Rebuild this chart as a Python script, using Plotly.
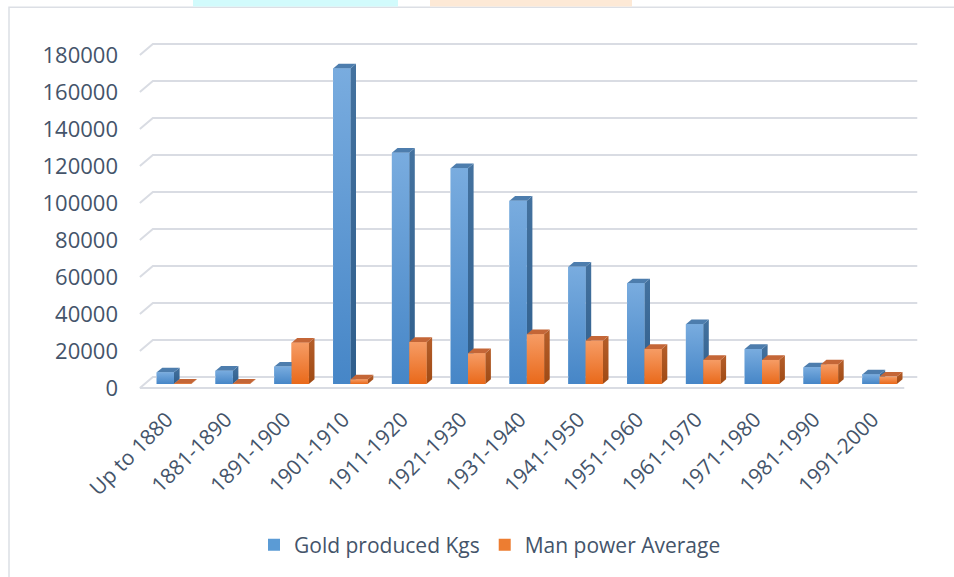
import plotly.graph_objects as go

# ---- data -------------------------------------------------------------
periods = ["Up to 1880", "1881-1890", "1891-1900", "1901-1910", "1911-1920",
           "1921-1930", "1931-1940", "1941-1950", "1951-1960", "1961-1970",
           "1971-1980", "1981-1990", "1991-2000"]
gold_kgs = [6300, 7200, 9400, 170600, 125000, 116600, 99100,
            63400, 54400, 32300, 18900, 9000, 5200]
man_power = [150, 120, 22300, 2500, 22700, 16600, 26900,
             23400, 18900, 13000, 13000, 10600, 4000]
y_ticks = list(range(0, 180001, 20000))

# ---- canvas geometry ---------------------------------------------------
W, H = 954, 577
ML, MR, MT, MB = 130, 24, 30, 175
PW, PH = W - ML - MR, H - MT - MB
PX_CAT = 58.8          # pixels per category
PX_VAL = 0.00185       # pixels per unit of value
X0_PX = 174            # pixel of the first category centre
Y0_PX = 384            # pixel of value 0 on the bar plane

x_range = [(ML - X0_PX) / PX_CAT, (ML + PW - X0_PX) / PX_CAT]
y_range = [(Y0_PX - (MT + PH)) / PX_VAL, (Y0_PX - MT) / PX_VAL]

# depth of the floor (pixels to the right, pixels up) in data units
DX, DY = 13 / PX_CAT, 11 / PX_VAL
front_dx, front_dy = -4 / 11 * DX, -4 / 11 * DY
back_dx, back_dy = 7 / 11 * DX, 7 / 11 * DY
bar_dx, bar_dy = 5.6 / PX_CAT, 4.7 / PX_VAL
BW = 17.3 / PX_CAT
n = len(periods)
left_edge, right_edge = -0.5, n - 0.5

FONT = "Open Sans"
TXT = "#44546A"
GRID = "#D9DCE3"

BLUE = dict(top="#79ACDF", bottom="#4686C7", side_top="#44729F", side_bottom="#2F5E8C",
            cap="#4D7DAD", legend="#5B9BD5")
ORANGE = dict(top="#F69C65", bottom="#E9691A", side_top="#B55E2A", side_bottom="#9F4A14",
              cap="#C46637", legend="#ED7D31")


def px_to_paper_x(p):
    return (p - ML) / PW


def px_to_paper_y(p):
    return (MT + PH - p) / PH


fig = go.Figure()

# legend entries (solid bars underneath the shaded faces)
for name, vals, pal, off in [("Gold produced Kgs", gold_kgs, BLUE, -BW),
                             ("Man power Average", man_power, ORANGE, 0.0)]:
    fig.add_trace(go.Bar(x=list(range(n)), y=vals, width=BW, offset=off, name=name,
                         marker=dict(color=pal["legend"], line=dict(width=0)),
                         hoverinfo="skip"))

# back wall / side wall gridlines and floor edge
gx, gy = [], []
for v in y_ticks:
    gx += [left_edge + front_dx, left_edge + back_dx, right_edge + back_dx, None]
    gy += [v + front_dy, v + back_dy, v + back_dy, None]
gx += [left_edge + front_dx, right_edge + front_dx]
gy += [front_dy, front_dy]
fig.add_trace(go.Scatter(x=gx, y=gy, mode="lines", line=dict(color=GRID, width=2),
                         showlegend=False, hoverinfo="skip"))


def poly(xs, ys, fill=None, grad=None):
    kw = dict(x=xs + [xs[0]], y=ys + [ys[0]], mode="none", fill="toself",
              showlegend=False, hoverinfo="skip")
    if grad:
        kw["fillgradient"] = dict(type="vertical",
                                  colorscale=[[0, grad[0]], [1, grad[1]]])
    else:
        kw["fillcolor"] = fill
    return go.Scatter(**kw)


# shaded 3-D columns
for i in range(n):
    for vals, pal, off in [(gold_kgs, BLUE, -BW), (man_power, ORANGE, 0.0)]:
        v = vals[i]
        x0 = i + off
        x1 = x0 + BW
        fig.add_trace(poly([x1, x1, x1 + bar_dx, x1 + bar_dx], [0, v, v + bar_dy, bar_dy],
                           grad=(pal["side_bottom"], pal["side_top"])))
        fig.add_trace(poly([x0, x1, x1 + bar_dx, x0 + bar_dx], [v, v, v + bar_dy, v + bar_dy],
                           fill=pal["cap"]))
        fig.add_trace(poly([x0, x1, x1, x0], [0, 0, v, v],
                           grad=(pal["bottom"], pal["top"])))

shapes = [
    dict(type="rect", xref="paper", yref="paper",
         x0=px_to_paper_x(9), x1=px_to_paper_x(W + 10),
         y0=px_to_paper_y(H + 10), y1=px_to_paper_y(7.3),
         line=dict(color="#DCDFE5", width=1.5), fillcolor="rgba(0,0,0,0)", layer="below"),
    dict(type="rect", xref="paper", yref="paper",
         x0=px_to_paper_x(193), x1=px_to_paper_x(398),
         y0=px_to_paper_y(6.5), y1=px_to_paper_y(-2),
         line=dict(width=0), fillcolor="#D2FBFC", layer="below"),
    dict(type="rect", xref="paper", yref="paper",
         x0=px_to_paper_x(430), x1=px_to_paper_x(632),
         y0=px_to_paper_y(6.5), y1=px_to_paper_y(-2),
         line=dict(width=0), fillcolor="#FDE9D6", layer="below"),
]

fig.update_layout(
    width=W, height=H,
    margin=dict(l=ML, r=MR, t=MT, b=MB, autoexpand=False),
    paper_bgcolor="white", plot_bgcolor="white",
    barmode="overlay",
    font=dict(family=FONT, size=21, color=TXT),
    shapes=shapes,
    showlegend=True,
    legend=dict(orientation="h", x=px_to_paper_x(490), xanchor="center",
                y=px_to_paper_y(545), yanchor="middle",
                font=dict(family=FONT, size=21, color=TXT),
                traceorder="normal", itemwidth=30),
    xaxis=dict(range=x_range, tickmode="array",
               tickvals=[i + front_dx - 0.04 for i in range(n)], ticktext=periods,
               tickangle=-45, showgrid=False, zeroline=False, showline=False,
               ticks="", tickfont=dict(family=FONT, size=21, color=TXT), fixedrange=True),
    yaxis=dict(range=y_range, tickmode="array",
               tickvals=[v + front_dy for v in y_ticks], ticktext=[str(v) for v in y_ticks],
               showgrid=False, zeroline=False, showline=False, ticks="",
               ticklabelstandoff=11,
               tickfont=dict(family=FONT, size=22, color=TXT), fixedrange=True),
)

fig.write_html("out.html")
